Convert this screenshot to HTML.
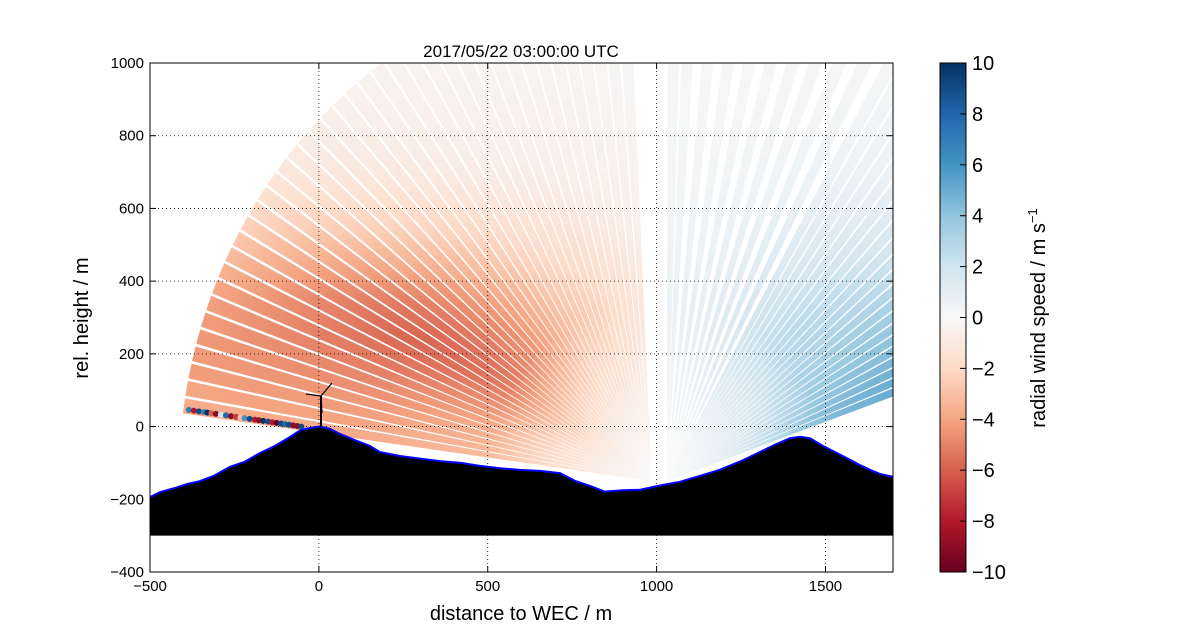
<!DOCTYPE html>
<html><head><meta charset="utf-8">
<style>
html,body{margin:0;padding:0;background:#fff;}
svg text{font-family:"Liberation Sans",sans-serif;}
</style></head>
<body>
<svg id="chart" width="1200" height="636" xmlns="http://www.w3.org/2000/svg">
<defs>
<clipPath id="plotclip"><rect x="150" y="63" width="743" height="509"/></clipPath>
<linearGradient id="cbgrad" x1="0" y1="1" x2="0" y2="0">
<stop offset="0" stop-color="#67001f"/><stop offset="0.1" stop-color="#b2182b"/>
<stop offset="0.2" stop-color="#d6604d"/><stop offset="0.3" stop-color="#f4a582"/>
<stop offset="0.4" stop-color="#fddbc7"/><stop offset="0.5" stop-color="#f7f7f7"/>
<stop offset="0.6" stop-color="#d1e5f0"/><stop offset="0.7" stop-color="#92c5de"/>
<stop offset="0.8" stop-color="#4393c3"/><stop offset="0.9" stop-color="#2166ac"/>
<stop offset="1" stop-color="#053061"/>
</linearGradient>
</defs>
<rect x="150" y="63" width="743" height="509" fill="#fff"/>
<g id="fan" clip-path="url(#plotclip)"></g>
<g id="grid"></g>
<g id="terrain" clip-path="url(#plotclip)"></g>
<g id="dots" clip-path="url(#plotclip)"></g>
<g id="turbine">
<line x1="321" y1="427" x2="321" y2="396" stroke="#000" stroke-width="2"/>
<line x1="321" y1="396" x2="332" y2="383" stroke="#000" stroke-width="1.2"/>
<line x1="321" y1="396" x2="306" y2="394" stroke="#000" stroke-width="1.2"/>
<line x1="321" y1="396" x2="322" y2="413" stroke="#000" stroke-width="1.2"/>
</g>
<rect x="150" y="63" width="743" height="509" fill="none" stroke="#000" stroke-width="1"/>
<g id="axes"></g>
<text x="521" y="57" font-size="17" text-anchor="middle">2017/05/22 03:00:00 UTC</text>
<text x="521" y="620" font-size="20" text-anchor="middle">distance to WEC / m</text>
<text transform="translate(88,318) rotate(-90)" font-size="20" text-anchor="middle">rel. height / m</text>
<rect x="940" y="63" width="26" height="509" fill="url(#cbgrad)" stroke="#000" stroke-width="1"/>
<g id="cbticks"></g>
<text transform="translate(1045,318) rotate(-90)" font-size="20" text-anchor="middle">radial wind speed / m s<tspan font-size="13" dy="-8">−1</tspan></text>
</svg>
<script>
const xTicks=[-500,0,500,1000,1500];
const yTicks=[-400,-200,0,200,400,600,800,1000];
const cbTicks=[-10,-8,-6,-4,-2,0,2,4,6,8,10];
const terrainX=[-500,-470,-426,-390,-352,-310,-264,-220,-175,-130,-86,-55,-27,3,32,62,106,151,180,240,300,358,420,477,540,595,655,714,760,802,847,900,950,1010,1069,1130,1187,1250,1306,1350,1395,1425,1454,1490,1528,1570,1600,1632,1660,1700];
const terrainY=[-194,-180,-169,-158,-150,-135,-111,-97,-73,-53,-29,-10,-4,0,-6,-20,-37,-53,-70,-81,-88,-95,-100,-108,-115,-119,-122,-128,-150,-163,-179,-175,-174,-162,-152,-135,-119,-95,-70,-50,-32,-28,-32,-52,-70,-90,-105,-119,-130,-138];
const leftAngles=[171.5,169.5,167.5,165.5,163.5,161.5,159.5,157.5,155.5,153.5,151.5,149.5,147.5,145.5,143.5,141.5,139.5,137.5,135.5,133.5,131.5,129.5,127.5,125.5,123.5,121.5,119.5,117.5,115.5,113.5,111.5,109.5,107.5,105.5,103.5,101.5,99.5,97.5,95.5,93.5];
const leftValues=[-5.6,-5.5,-5.4,-5.3,-5.3,-5.3,-5.4,-5.5,-5.6,-5.7,-5.8,-5.8,-5.7,-5.6,-5.4,-5.2,-5,-4.8,-4.6,-4.4,-4.2,-4,-3.8,-3.6,-3.4,-3.2,-3,-2.9,-2.8,-2.7,-2.6,-2.5,-2.4,-2.2,-2,-1.9,-1.8,-1.6,-1.4,-1.2];
const rightAngles=[20,22,24,26,28,30,32,34,36,38,40,42,44,46,48,50,52,54,56,58,60,63,66,69,72,75,78,81,84,87,89];
const rightValues=[5.8,5.5,5.1,4.7,4.4,4.1,3.8,3.6,3.4,3.2,3,2.9,2.8,2.7,2.6,2.5,2.4,2.3,2.2,2.1,2,1.8,1.6,1.4,1.3,1.1,1,0.9,0.8,0.7,0.6];
const profileHeights=[-150,-50,50,150,250,350,450,550,650,750,900,1000];
const profileFactors=[0.45,0.62,0.8,0.95,1,0.92,0.72,0.5,0.32,0.22,0.14,0.1];
const scanDotX=[-385,-370,-355,-340,-330,-318,-305,-290,-275,-260,-245,-232,-220,-205,-190,-178,-165,-150,-138,-125,-112,-100,-88,-76,-64,-52];
const scanDotV=[7,-8,9,7,10,-6,-9,2,8,-9,-7,-3,6,9,-8,-9,10,9,-8,-10,9,8,9,-9,-9,9];
const leftOrigin=[985,-150], rightOrigin=[1030,-150], scanRange=1400, halfWidth=0.85, nearFade=0.35;

const NS='http://www.w3.org/2000/svg';
const sx=v=>150+(v+500)*743/2200;
const sy=v=>63+(1000-v)*509/1400;
const cmStops=[[103,0,31],[178,24,43],[214,96,77],[244,165,130],[253,219,199],[247,247,247],[209,229,240],[146,197,222],[67,147,195],[33,102,172],[5,48,97]];
function cmap(v){let t=(Math.max(-10,Math.min(10,v))+10)/2;let i=Math.min(9,Math.floor(t));let f=t-i;
 const a=cmStops[i],b=cmStops[i+1];return 'rgb('+a.map((c,k)=>Math.round(c+(b[k]-c)*f)).join(',')+')';}
function prof(h){if(h<=profileHeights[0])return profileFactors[0];
 for(let i=1;i<profileHeights.length;i++){if(h<=profileHeights[i]){const f=(h-profileHeights[i-1])/(profileHeights[i]-profileHeights[i-1]);return profileFactors[i-1]+f*(profileFactors[i]-profileFactors[i-1]);}}
 return profileFactors[profileFactors.length-1];}
function mk(tag,attrs,parent){const e=document.createElementNS(NS,tag);for(const k in attrs)e.setAttribute(k,attrs[k]);parent.appendChild(e);return e;}
const svg=document.getElementById('chart');const defs=svg.querySelector('defs');
const fan=document.getElementById('fan');
function pt(o,a,r){const rad=a*Math.PI/180;return [sx(o[0]+r*Math.cos(rad)),sy(o[1]+r*Math.sin(rad))];}
function drawFan(origin,angles,values,prefix){
 angles.forEach((a,i)=>{
  const o=[sx(origin[0]),sy(origin[1])];
  const c0=pt(origin,a,scanRange);
  const p1=pt(origin,a-halfWidth,scanRange),p2=pt(origin,a+halfWidth,scanRange);
  const g=mk('linearGradient',{id:prefix+i,gradientUnits:'userSpaceOnUse',x1:o[0],y1:o[1],x2:c0[0],y2:c0[1]},defs);
  const s=Math.sin(a*Math.PI/180);
  for(let k=0;k<=20;k++){const t=k/20;const h=origin[1]+t*scanRange*s;
   const far=t>0.6?1-0.45*(t-0.6):1;
   const v=values[i]*prof(h)*Math.min(1,t/nearFade)*far;
   mk('stop',{offset:t,'stop-color':cmap(v)},g);}
  const w=mk('polygon',{points:o.join(',')+' '+p1.join(',')+' '+p2.join(','),fill:'url(#'+prefix+i+')'},fan);
  
  
 });
}
drawFan(leftOrigin,leftAngles,leftValues,'left-fan');
drawFan(rightOrigin,rightAngles,rightValues,'right-fan');
const grid=document.getElementById('grid');
xTicks.forEach(t=>{if(t>-500){const l=mk('line',{x1:sx(t),x2:sx(t),y1:63,y2:572,stroke:'#000','stroke-width':0.8,'stroke-dasharray':'1,3'},grid);
 }});
yTicks.forEach(t=>{if(t>-400&&t<1000){const l=mk('line',{x1:150,x2:893,y1:sy(t),y2:sy(t),stroke:'#000','stroke-width':0.8,'stroke-dasharray':'1,3'},grid);
 }});
const tg=document.getElementById('terrain');
let d='M'+sx(terrainX[0])+','+sy(-300);
terrainX.forEach((x,i)=>{d+=' L'+sx(x)+','+sy(terrainY[i]);});
d+=' L'+sx(terrainX[terrainX.length-1])+','+sy(-300)+' Z';
const tp=mk('path',{d:d,fill:'#000'},tg);

const tl=mk('polyline',{points:terrainX.map((x,i)=>sx(x)+','+sy(terrainY[i])).join(' '),fill:'none',stroke:'#0000ff','stroke-width':2},tg);

const dg=document.getElementById('dots');
scanDotX.forEach((x,i)=>{const y=46+(x+385)*(-46/333);
 const c=mk('circle',{cx:sx(x),cy:sy(y),r:3,fill:cmap(scanDotV[i])},dg);
 });
const ax=document.getElementById('axes');
xTicks.forEach(t=>{const x=sx(t);
 mk('line',{x1:x,x2:x,y1:572,y2:566,stroke:'#000'},ax);mk('line',{x1:x,x2:x,y1:63,y2:69,stroke:'#000'},ax);
 const tx=mk('text',{x:x,y:591,'font-size':15,'text-anchor':'middle'},ax);tx.textContent=t<0?'−'+(-t):t;
 });
yTicks.forEach(t=>{const y=sy(t);
 mk('line',{x1:150,x2:156,y1:y,y2:y,stroke:'#000'},ax);mk('line',{x1:893,x2:887,y1:y,y2:y,stroke:'#000'},ax);
 const tx=mk('text',{x:144,y:y+5,'font-size':15,'text-anchor':'end'},ax);tx.textContent=t<0?'−'+(-t):t;
 });
const cb=document.getElementById('cbticks');
cbTicks.forEach(t=>{const y=572-(t+10)*509/20;
 mk('line',{x1:960,x2:966,y1:y,y2:y,stroke:'#000'},cb);
 const tx=mk('text',{x:972,y:y+7,'font-size':20},cb);tx.textContent=t<0?'−'+(-t):t;
 });
</script>
</body></html>
